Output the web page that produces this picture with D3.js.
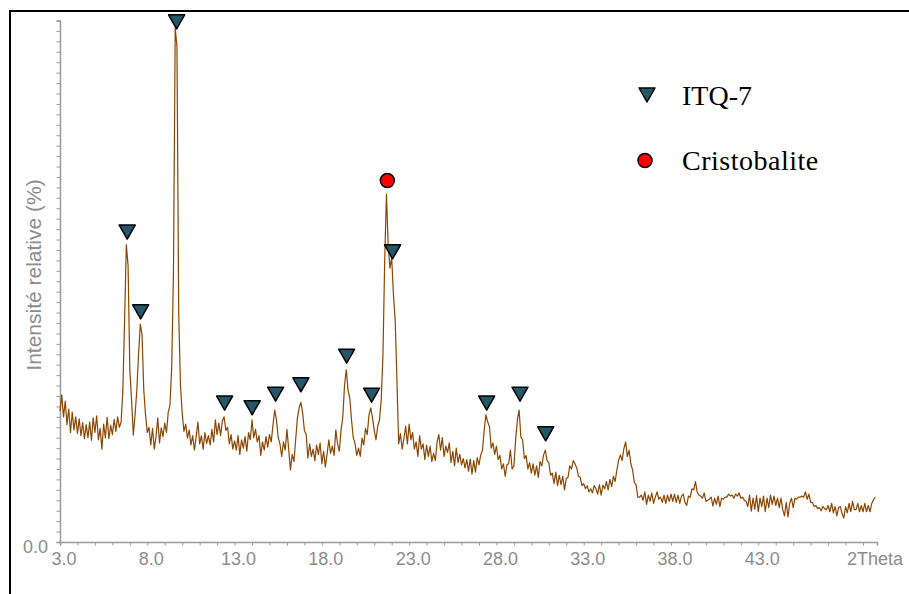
<!DOCTYPE html>
<html>
<head>
<meta charset="utf-8">
<script src="https://cdn.jsdelivr.net/npm/d3@7"></script>
<style>
  html, body { margin: 0; padding: 0; background: #fff; }
  svg { display: block; }
</style>
</head>
<body>
<svg id="chart" width="909" height="594"></svg>
<script>
// ---- data ----
const thetaStart = 3.0;   // first 2Theta value of the scan
const thetaStep = 0.1;    // scan step (deg)
const intensity = [
  25.1, 28.2, 24.0, 27.0, 22.5, 25.5, 21.0, 24.9, 21.5, 24.0, 20.8,
  23.6, 20.4, 22.9, 19.8, 22.5, 20.0, 23.0, 19.5, 23.8, 21.0,
  24.2, 19.6, 21.8, 17.8, 22.6, 20.0, 23.9, 19.8, 22.4, 20.6,
  23.5, 21.2, 24.0, 22.0, 23.0, 29.1, 42.6, 57.0, 53.0, 33.0,
  27.2, 20.5, 24.4, 29.1, 36.0, 41.8, 39.7, 29.1, 24.4, 21.0,
  22.0, 18.6, 21.8, 17.8, 20.2, 23.8, 19.0, 21.9, 20.2, 22.8,
  21.0, 24.9, 26.3, 33.6, 52.0, 98.6, 95.0, 44.0, 30.1, 24.7,
  21.2, 22.6, 19.9, 21.5, 18.6, 20.4, 17.6, 20.2, 23.0, 18.8,
  20.4, 17.8, 21.0, 18.9, 20.4, 18.6, 21.6, 19.2, 23.4, 20.6,
  22.8, 20.4, 23.2, 24.0, 21.4, 22.0, 18.8, 20.6, 17.8, 19.4,
  17.6, 20.4, 16.8, 19.6, 18.0, 20.2, 17.4, 21.0, 19.6, 23.4,
  20.0, 21.6, 19.2, 20.4, 16.6, 19.2, 17.6, 20.2, 18.2, 20.6,
  19.2, 22.4, 25.3, 23.4, 20.0, 18.8, 16.4, 19.2, 17.6, 21.6,
  17.8, 13.8, 16.8, 15.4, 19.6, 23.8, 25.7, 26.8, 24.7, 21.4,
  20.6, 16.1, 18.8, 16.4, 17.8, 15.6, 18.6, 16.8, 19.0, 15.0,
  17.4, 14.4, 16.9, 19.6, 17.0, 18.4, 16.6, 21.5, 18.8, 17.4,
  21.5, 24.0, 30.1, 33.0, 29.1, 27.6, 23.4, 20.0, 18.9, 16.6,
  18.0, 16.4, 19.9, 18.6, 21.8, 20.6, 24.4, 25.7, 23.8, 21.4,
  19.6, 22.2, 23.4, 27.2, 35.9, 54.1, 66.7, 57.0, 52.5, 54.5,
  47.4, 42.6, 31.1, 18.8, 20.8, 17.8, 19.8, 22.2, 18.8, 22.6,
  19.6, 21.0, 17.8, 19.2, 16.4, 20.4, 17.8, 18.8, 15.8, 18.6,
  16.4, 18.4, 15.4, 17.0, 15.6, 19.2, 20.6, 17.6, 20.0, 16.4,
  18.4, 17.2, 19.0, 15.2, 17.4, 14.6, 18.0, 15.2, 16.8, 14.8,
  16.0, 14.2, 15.8, 13.6, 15.9, 13.0, 15.6, 13.4, 16.2, 14.8,
  16.7, 17.6, 21.5, 24.4, 23.0, 22.1, 18.0, 19.0, 16.8, 18.4,
  15.8, 16.6, 14.0, 15.0, 12.6, 14.8, 15.0, 17.6, 14.0, 14.6,
  19.6, 23.4, 25.3, 20.1, 19.6, 16.0, 16.6, 14.0, 15.2, 13.2,
  15.0, 12.8, 14.6, 12.4, 15.4, 14.6, 16.7, 17.6, 15.6, 15.2,
  12.8, 13.2, 11.2, 13.4, 10.8, 12.8, 11.0, 12.6, 10.0, 12.2,
  12.4, 14.6, 14.0, 15.6, 15.0, 14.2, 12.6, 12.4, 10.8, 11.2,
  10.2, 10.8, 9.6, 10.2, 9.4, 10.8, 10.2, 9.2, 11.0, 9.0,
  10.9, 10.2, 11.6, 10.0, 12.0, 10.6, 12.6, 11.6, 13.8, 15.7,
  16.7, 15.6, 17.9, 19.2, 16.4, 17.6, 15.0, 13.8, 11.4, 11.0,
  8.6, 8.6, 9.0, 8.0, 9.6, 7.2, 9.0, 7.8, 9.4, 7.4,
  8.6, 9.6, 8.2, 8.6, 7.6, 9.0, 7.4, 9.0, 7.8, 9.2,
  7.8, 9.2, 7.6, 9.0, 7.4, 8.8, 9.2, 7.6, 7.0, 8.8,
  8.6, 10.2, 10.0, 11.6, 9.6, 9.0, 8.8, 8.4, 9.4, 7.8,
  8.0, 8.2, 8.6, 6.9, 8.4, 7.2, 8.8, 6.8, 8.4, 8.2,
  8.6, 8.6, 9.2, 8.8, 9.0, 8.4, 9.2, 8.8, 9.4, 8.4,
  8.6, 8.0, 7.8, 6.8, 9.0, 5.9, 8.4, 6.3, 8.9, 5.8,
  8.4, 6.8, 8.8, 5.8, 8.4, 6.6, 9.0, 7.2, 8.8, 7.0,
  8.4, 6.6, 8.4, 6.2, 5.0, 7.6, 4.8, 7.4, 8.4, 6.6,
  8.4, 8.2, 8.6, 8.6, 8.8, 8.6, 9.6, 8.2, 9.2, 7.6,
  7.6, 6.8, 7.0, 6.4, 6.6, 6.0, 6.8, 6.4, 6.2, 7.0,
  5.8, 7.4, 5.6, 6.8, 5.0, 6.6, 6.8, 5.4, 4.6, 6.8,
  5.6, 7.4, 5.8, 7.8, 6.2, 6.2, 7.4, 5.8, 7.0, 5.8,
  7.4, 5.8, 7.0, 5.8, 7.4, 8.1, 8.6
];

// ITQ-7 reflections (2Theta, marker tip intensity)
const itqTheta = [6.85, 7.62, 9.68, 12.43, 14.01, 15.35, 16.80, 19.42, 20.85, 22.05, 27.44, 29.35, 30.82];
const itqLevel = [58.1, 42.8, 98.4, 25.3, 24.4, 27.0, 28.8, 34.3, 26.8, 54.3, 25.3, 27.0, 19.4];
// Cristobalite reflection (2Theta, marker centre intensity)
const cristTheta = [21.75];
const cristLevel = [69.3];

const xLabelTicks = [3, 8, 13, 18, 23, 28, 33, 38, 43];
const xTitleTick = 48;
const legendItems = ["ITQ-7", "Cristobalite"];

// ---- drawing ----
const svg = d3.select("#chart");
const gray = "#8c8c8c";

// frame (top + left border)
svg.append("path")
  .attr("d", "M10,594 L10,11 L909,11")
  .attr("fill", "none").attr("stroke", "#000").attr("stroke-width", 2);

const x = d3.scaleLinear().domain([3, 49.8]).range([60, 877]);
const y = d3.scaleLinear().domain([0, 100]).range([542, 20.5]);

// x axis
const xAxis = d3.axisBottom(x)
  .tickValues(d3.range(3, 50, 1))
  .tickSize(3.5)
  .tickFormat(d => xLabelTicks.includes(d) ? d3.format(".1f")(d) : (d === xTitleTick ? "2Theta" : ""));
const gx = svg.append("g").attr("transform", "translate(0,542)").call(xAxis);
gx.select(".domain").attr("stroke", "#9a9a9a").attr("stroke-width", 1.5);
gx.selectAll(".tick line").attr("stroke", "#9a9a9a").attr("stroke-width", 1);
gx.selectAll(".tick text")
  .attr("fill", gray).attr("font-family", "Liberation Sans, Arial, sans-serif").attr("font-size", 18)
  .attr("y", 23).attr("dy", 0).attr("dx", 3.5);
gx.selectAll(".tick text").filter(d => d === xTitleTick).attr("text-anchor", "start").attr("dx", 1);

// y axis
const yAxis = d3.axisLeft(y)
  .tickValues(d3.range(0, 101, 2))
  .tickSize(3.5)
  .tickFormat(d => d === 0 ? "0.0" : "");
const gy = svg.append("g").attr("transform", "translate(60,0)").call(yAxis);
gy.select(".domain").attr("stroke", "#9a9a9a").attr("stroke-width", 1.5);
gy.selectAll(".tick line").attr("stroke", "#9a9a9a").attr("stroke-width", 1);
gy.selectAll(".tick text")
  .attr("fill", gray).attr("font-family", "Liberation Sans, Arial, sans-serif").attr("font-size", 18)
  .attr("x", -12).attr("dy", 10);

svg.append("text")
  .attr("transform", "translate(41,275) rotate(-90)")
  .attr("text-anchor", "middle")
  .attr("fill", gray)
  .attr("font-family", "Liberation Sans, Arial, sans-serif")
  .attr("font-size", 21)
  .text("Intensité relative (%)");

// diffraction trace
const pts = intensity.map((v, i) => [thetaStart + i * thetaStep, v]);
svg.append("path")
  .datum(pts)
  .attr("fill", "none")
  .attr("stroke", "#8c4600")
  .attr("stroke-width", 1.2)
  .attr("stroke-linejoin", "round")
  .attr("d", d3.line().x(d => x(d[0])).y(d => y(d[1])));

// markers
const triW = 16, triH = 14;
function triPath(cx, tipY) {
  return `M${cx - triW / 2},${tipY - triH} L${cx + triW / 2},${tipY - triH} L${cx},${tipY} Z`;
}
svg.append("g").selectAll("path")
  .data(itqTheta.map((t, i) => [t, itqLevel[i]]))
  .join("path")
  .attr("d", d => triPath(x(d[0]), y(d[1])))
  .attr("fill", "#22586a").attr("stroke", "#000").attr("stroke-width", 1.5)
  .attr("stroke-linejoin", "round");

svg.append("g").selectAll("circle")
  .data(cristTheta.map((t, i) => [t, cristLevel[i]]))
  .join("circle")
  .attr("cx", d => x(d[0])).attr("cy", d => y(d[1])).attr("r", 7)
  .attr("fill", "#ff0000").attr("stroke", "#000").attr("stroke-width", 1.5);

// legend
const lg = svg.append("g");
lg.append("path").attr("d", triPath(647, 102))
  .attr("fill", "#22586a").attr("stroke", "#000").attr("stroke-width", 1.5).attr("stroke-linejoin", "round");
lg.append("circle").attr("cx", 645).attr("cy", 160.5).attr("r", 7)
  .attr("fill", "#ff0000").attr("stroke", "#000").attr("stroke-width", 1.5);
lg.selectAll("text").data(legendItems).join("text")
  .attr("x", 682).attr("y", (d, i) => 105 + i * 65)
  .attr("font-family", "Liberation Serif, Times New Roman, serif")
  .attr("font-size", 28)
  .attr("letter-spacing", (d, i) => i === 1 ? 0.5 : 0)
  .attr("fill", "#000")
  .text(d => d);
</script>
</body>
</html>
